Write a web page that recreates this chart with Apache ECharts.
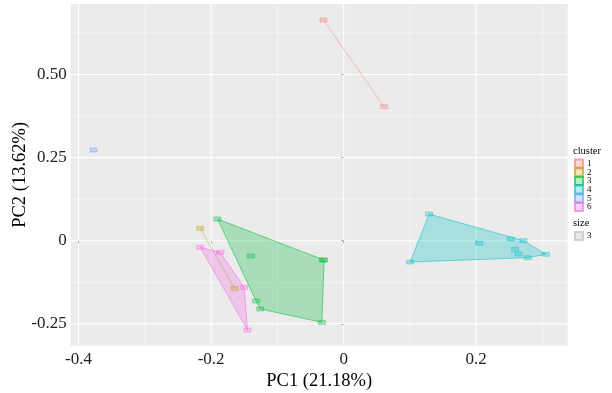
<!DOCTYPE html>
<html>
<head>
<meta charset="utf-8">
<script src="https://cdn.jsdelivr.net/npm/echarts@6/dist/echarts.min.js"></script>
<style>html,body{margin:0;padding:0;background:#fff;}#c{width:612px;height:393px;}</style>
</head>
<body>
<div id="c"></div>
<script>
// ---- data ----
const clusterNames = ['1', '2', '3', '4', '5', '6'];
const clusterColors = ['#F8766D', '#B79F00', '#00BA38', '#00BFC4', '#619CFF', '#F564E3'];
const cluster1X = [-0.0305, 0.0611];
const cluster1Y = [0.6638, 0.403];
const cluster2X = [-0.2164, -0.1647];
const cluster2Y = [0.0373, -0.1432];
const cluster3X = [-0.1903, -0.0314, -0.0294, -0.0329, -0.1259, -0.132, -0.14];
const cluster3Y = [0.0653, -0.058, -0.058, -0.2454, -0.2054, -0.1814, -0.046];
const cluster4X = [0.129, 0.1003, 0.305, 0.2522, 0.2712, 0.2048, 0.2587, 0.2637, 0.2778];
const cluster4Y = [0.0803, -0.0641, -0.0409, 0.0051, 0.0, -0.0078, -0.0259, -0.04, -0.0511];
const cluster5X = [-0.3774];
const cluster5Y = [0.2728];
const cluster6X = [-0.2164, -0.1863, -0.1501, -0.1451];
const cluster6Y = [-0.0198, -0.0349, -0.1402, -0.2686];

const xTicks = [-0.4, -0.2, 0, 0.2];
const xTickLabels = ['-0.4', '-0.2', '0', '0.2'];
const xMinor = [-0.3, -0.1, 0.1, 0.3];
const yTicks = [-0.25, 0, 0.25, 0.5];
const yTickLabels = ['-0.25', '0', '0.25', '0.50'];
const yMinor = [-0.125, 0.125, 0.375, 0.625];
const xMin = -0.4118, xMax = 0.338;
const yMin = -0.3158, yMax = 0.712;
const sizeLegend = ['3'];

// ---- build ----
const FONT = 'Liberation Serif';
const SIZE_NAME = 'size ' + sizeLegend[0];
const clustersX = [cluster1X, cluster2X, cluster3X, cluster4X, cluster5X, cluster6X];
const clustersY = [cluster1Y, cluster2Y, cluster3Y, cluster4Y, cluster5Y, cluster6Y];

function rgba(hex, a) {
  const n = parseInt(hex.slice(1), 16);
  return 'rgba(' + ((n >> 16) & 255) + ',' + ((n >> 8) & 255) + ',' + (n & 255) + ',' + a + ')';
}
function hull(pts) {
  const p = pts.slice().sort((a, b) => a[0] - b[0] || a[1] - b[1]);
  if (p.length < 3) return p;
  const cross = (o, a, b) => (a[0] - o[0]) * (b[1] - o[1]) - (a[1] - o[1]) * (b[0] - o[0]);
  const lower = [], upper = [];
  for (const q of p) { while (lower.length >= 2 && cross(lower[lower.length - 2], lower[lower.length - 1], q) <= 0) lower.pop(); lower.push(q); }
  for (let i = p.length - 1; i >= 0; i--) { const q = p[i]; while (upper.length >= 2 && cross(upper[upper.length - 2], upper[upper.length - 1], q) <= 0) upper.pop(); upper.push(q); }
  upper.pop(); lower.pop();
  return lower.concat(upper);
}

const series = [];
clusterNames.forEach((name, ci) => {
  const pts = clustersX[ci].map((x, i) => [x, clustersY[ci][i]]);
  const color = clusterColors[ci];
  series.push({
    type: 'scatter', name: name, z: 3,
    data: pts,
    symbol: 'rect', symbolSize: [7, 4],
    itemStyle: { color: rgba(color, 0.35), borderColor: rgba(color, 0.8), borderWidth: 0.6 }
  });
});
series.push({
  type: 'custom', z: 0, silent: true, clip: false,
  data: [[0, 0]],
  renderItem: function (params, api) {
    const children = [];
    const add = (x1, y1, x2, y2, w) => {
      const a = api.coord([x1, y1]), b = api.coord([x2, y2]);
      children.push({ type: 'line', shape: { x1: a[0], y1: a[1], x2: b[0], y2: b[1] }, style: { stroke: '#FFFFFF', lineWidth: w } });
    };
    xMinor.forEach(v => add(v, yMin, v, yMax, 0.5));
    yMinor.forEach(v => add(xMin, v, xMax, v, 0.5));
    xTicks.forEach(v => add(v, yMin, v, yMax, 1.1));
    yTicks.forEach(v => add(xMin, v, xMax, v, 1.1));
    return { type: 'group', children: children };
  }
});
clusterNames.forEach((name, ci) => {
  const pts = clustersX[ci].map((x, i) => [x, clustersY[ci][i]]);
  const color = clusterColors[ci];
  if (pts.length < 2) return;
  const h = hull(pts);
  series.push({
    type: 'custom', name: name, z: 1, silent: true,
    itemStyle: { color: rgba(color, 0.35), borderColor: rgba(color, 0.8) },
    data: h,
    renderItem: function (params, api) {
      if (params.dataIndex !== 0) return null;
      const poly = h.map(p => api.coord(p));
      if (poly.length === 2) {
        return { type: 'polyline', shape: { points: poly }, style: { stroke: rgba(color, 0.6), lineWidth: 0.7, fill: null } };
      }
      return { type: 'polygon', shape: { points: poly }, style: { fill: rgba(color, 0.28), stroke: rgba(color, 0.9), lineWidth: 0.6 } };
    }
  });
});
series.push({
  type: 'scatter', name: SIZE_NAME, data: [],
  symbol: 'rect',
  itemStyle: { color: '#E3E3E3', borderColor: '#C8C8C8', borderWidth: 0.6 }
});

const chart = echarts.init(document.getElementById('c'), null, { renderer: 'canvas', width: 612, height: 393 });
chart.setOption({
  animation: false,
  backgroundColor: '#FFFFFF',
  textStyle: { fontFamily: FONT },
  grid: { left: 70.7, right: 44.3, top: 4, bottom: 47.3, show: true, backgroundColor: '#EBEBEB', borderWidth: 0, containLabel: false, outerBoundsMode: 'none' },
  xAxis: {
    type: 'value', min: xMin, max: xMax,
    name: 'PC1 (21.18%)', nameLocation: 'middle', nameGap: 26, nameMoveOverlap: false,
    nameTextStyle: { fontFamily: FONT, fontSize: 18.5, color: '#000' },
    axisLine: { show: false },
    axisTick: { show: true, customValues: xTicks, length: 2.7, lineStyle: { color: '#B0B0B0', width: 1 } },
    axisLabel: {
      customValues: xTicks, alignMinLabel: 'center', alignMaxLabel: 'center', hideOverlap: false,
      formatter: v => xTickLabels[xTicks.findIndex(t => Math.abs(t - v) < 1e-9)] || '',
      fontFamily: FONT, fontSize: 17, color: '#222', margin: 5
    },
    splitLine: { show: false }
  },
  yAxis: {
    type: 'value', min: yMin, max: yMax,
    name: 'PC2 (13.62%)', nameLocation: 'middle', nameGap: 41, nameMoveOverlap: false,
    nameTextStyle: { fontFamily: FONT, fontSize: 18.5, color: '#000' },
    axisLine: { show: false },
    axisTick: { show: true, customValues: yTicks, length: 2.7, lineStyle: { color: '#B0B0B0', width: 1 } },
    axisLabel: {
      customValues: yTicks, verticalAlignMinLabel: 'middle', verticalAlignMaxLabel: 'middle', hideOverlap: false,
      formatter: v => yTickLabels[yTicks.findIndex(t => Math.abs(t - v) < 1e-9)] || '',
      fontFamily: FONT, fontSize: 17, color: '#222', margin: 4
    },
    splitLine: { show: false }
  },
  legend: [
    {
      data: clusterNames, orient: 'vertical', left: 574, top: 158.5, padding: 0,
      itemWidth: 8, itemHeight: 8, itemGap: -1.3, icon: 'rect', selectedMode: false,
      textStyle: { fontFamily: FONT, fontSize: 9, color: '#000', padding: [0, 0, 0, -1] }
    },
    {
      data: [SIZE_NAME], orient: 'vertical', left: 574, top: 231, padding: 0,
      itemWidth: 8, itemHeight: 8, icon: 'rect', selectedMode: false,
      formatter: () => sizeLegend[0],
      textStyle: { fontFamily: FONT, fontSize: 9, color: '#000', padding: [0, 0, 0, -1] }
    }
  ],
  graphic: [
    { type: 'text', left: 573, top: 146, style: { text: 'cluster', fontFamily: FONT, fontSize: 10.5, fill: '#000' } },
    { type: 'text', left: 573, top: 217.5, style: { text: 'size', fontFamily: FONT, fontSize: 10.5, fill: '#000' } }
  ],
  series: series
});
</script>
</body>
</html>
